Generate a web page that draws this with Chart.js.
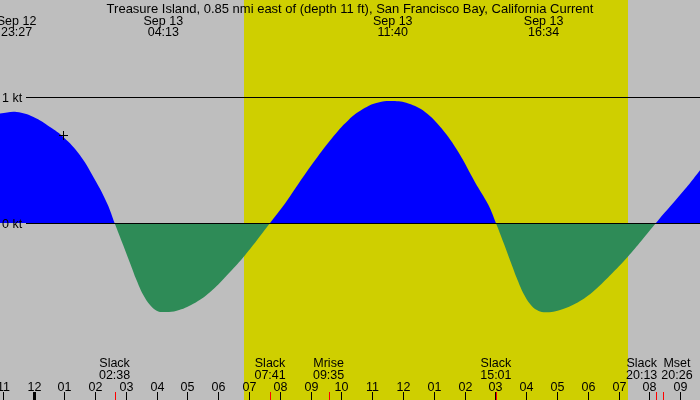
<!DOCTYPE html>
<html>
<head>
<meta charset="utf-8">
<script src="https://cdn.jsdelivr.net/npm/chart.js@4.4.1/dist/chart.umd.min.js"></script>
<style>
html,body{margin:0;padding:0;background:#bebebe;}
#wrap{width:700px;height:400px;}
</style>
</head>
<body>
<div id="wrap"><canvas id="c" width="700" height="400" style="width:700px;height:400px"></canvas></div>
<script>
// ---- Data (hours since Sep 13 00:00, knots) ----
const titleText = "Treasure Island, 0.85 nmi east of (depth 11 ft), San Francisco Bay, California Current";
const curTimes = [-1.09,-0.55,0.0,0.536,0.968,1.51,2.05,2.40,2.633,
  2.917,3.134,3.352,3.566,3.784,4.0,4.217,4.651,5.19,5.73,6.275,6.814,7.249,7.683,
  8.169,8.6,9.143,9.685,10.224,10.767,11.198,11.667,12.173,12.716,13.257,13.797,14.339,14.771,15.017,
  15.3,15.51,15.72,15.93,16.14,16.35,16.567,17.02,17.59,18.16,18.72,19.3,19.75,20.217,
  20.94,21.3,21.65];
const curKnots = [0.872,0.885,0.845,0.765,0.685,0.54,0.32,0.15,0,
  -0.18,-0.32,-0.46,-0.575,-0.655,-0.70,-0.711,-0.701,-0.645,-0.553,-0.419,-0.273,-0.14,0,
  0.155,0.31,0.499,0.673,0.819,0.917,0.960,0.971,0.952,0.885,0.752,0.565,0.325,0.145,0,
  -0.18,-0.32,-0.455,-0.57,-0.65,-0.695,-0.712,-0.70,-0.645,-0.55,-0.42,-0.27,-0.14,0,
  0.206,0.31,0.42];
const nowTime = 0.942, nowKnots = 0.70;
const sunTimes = [6.837, 19.30];              // sunrise, sunset
const topTimes = [-0.55, 4.217, 11.667, 16.567];
const topDates = ["Sep 12","Sep 13","Sep 13","Sep 13"];
const topClock = ["23:27","04:13","11:40","16:34"];
const evtTimes = [2.633, 7.683, 9.583, 15.017, 20.217, 20.433];
const evtNames = ["Slack","Slack","Mrise","Slack","Slack","Mset"];
const evtClock = ["02:38","07:41","09:35","15:01","20:13","20:26"];
const hourTicks = [-1,0,1,2,3,4,5,6,7,8,9,10,11,12,13,14,15,16,17,18,19,20,21];
const hourLabels = ["11","12","01","02","03","04","05","06","07","08","09","10","11","12","01","02","03","04","05","06","07","08","09"];
const levelVals = [1, 0];
const levelLabels = ["1 kt", "0 kt"];

const FONT = "12.5px 'Liberation Sans', Arial, sans-serif";
const TITLE_FONT = "13px 'Liberation Sans', Arial, sans-serif";

const deco = {
  id: 'deco',
  beforeDraw(chart) {
    const ctx = chart.ctx, xs = chart.scales.x;
    ctx.save();
    ctx.fillStyle = '#bebebe';
    ctx.fillRect(0, 0, chart.width, chart.height);
    const a = Math.round(xs.getPixelForValue(sunTimes[0])), b = Math.round(xs.getPixelForValue(sunTimes[1]));
    ctx.fillStyle = '#cfcf00';
    ctx.fillRect(a, 0, b - a, chart.height);
    ctx.restore();
  },
  afterDatasetsDraw(chart) {
    const ctx = chart.ctx, xs = chart.scales.x, ys = chart.scales.y;
    const W = chart.width;
    ctx.save();
    ctx.font = FONT;
    ctx.fillStyle = '#000';
    // level lines
    levelVals.forEach((v, i) => {
      const y = Math.round(ys.getPixelForValue(v)) + 0.5;
      ctx.strokeStyle = '#000'; ctx.lineWidth = 1;
      ctx.beginPath(); ctx.moveTo(26, y); ctx.lineTo(W, y); ctx.stroke();
      ctx.textAlign = 'left'; ctx.textBaseline = 'alphabetic';
      ctx.fillText(levelLabels[i], 2, y + 4);
    });
    // now marker
    const px = Math.round(xs.getPixelForValue(nowTime)), py = Math.round(ys.getPixelForValue(nowKnots));
    ctx.beginPath();
    ctx.moveTo(px - 4, py + 0.5); ctx.lineTo(px + 5, py + 0.5);
    ctx.moveTo(px + 0.5, py - 4); ctx.lineTo(px + 0.5, py + 5);
    ctx.stroke();
    // title
    ctx.textAlign = 'center';
    ctx.font = TITLE_FONT;
    ctx.fillText(titleText, W / 2, 12.5);
    ctx.font = FONT;
    // top labels
    topTimes.forEach((t, i) => {
      const x = xs.getPixelForValue(t);
      ctx.fillText(topDates[i], x, 24.5);
      ctx.fillText(topClock[i], x, 36);
    });
    // bottom event labels with overlap resolution
    const items = evtTimes.map((t, i) => {
      const w = Math.max(ctx.measureText(evtNames[i]).width, ctx.measureText(evtClock[i]).width);
      return { x: xs.getPixelForValue(t), w, i };
    });
    const cx = items.map(o => o.x);
    for (let k = 0; k < items.length - 1; k++) {
      const A = items[k], B = items[k + 1];
      const need = A.w / 2 + B.w / 2 + 4;
      if (cx[k + 1] - cx[k] < need) {
        const mid = (cx[k] + cx[k + 1]) / 2;
        cx[k] = mid - need / 2; cx[k + 1] = mid + need / 2;
      }
    }
    items.forEach((o, k) => {
      ctx.fillText(evtNames[o.i], cx[k], 366.5);
      ctx.fillText(evtClock[o.i], cx[k], 378.5);
    });
    // hour ticks
    hourTicks.forEach((h, i) => {
      const x = Math.round(xs.getPixelForValue(h));
      ctx.fillStyle = '#000';
      ctx.fillText(hourLabels[i], x + 0.5, 390.5);
      if (h === 0) ctx.fillRect(x - 1, 392, 3, 8);
      else ctx.fillRect(x, 392, 1, 8);
    });
    // event ticks
    ctx.fillStyle = '#ff0000';
    evtTimes.forEach(t => {
      const x = Math.round(xs.getPixelForValue(t));
      ctx.fillRect(x, 392, 1, 8);
    });
    ctx.restore();
  }
};

const pts = curTimes.map((t, i) => ({ x: t, y: curKnots[i] }));

new Chart(document.getElementById('c'), {
  type: 'line',
  data: {
    datasets: [{
      data: pts,
      fill: { target: 'origin', above: '#0000ff', below: '#2e8b57' },
      borderWidth: 0,
      borderColor: 'rgba(0,0,0,0)',
      pointRadius: 0,
      tension: 0.4
    }]
  },
  options: {
    responsive: false,
    animation: false,
    layout: { padding: 0 },
    events: [],
    plugins: { legend: { display: false }, tooltip: { enabled: false } },
    scales: {
      x: { type: 'linear', display: false, min: -1.088, max: 21.646 },
      y: { type: 'linear', display: false, min: -1.412, max: 1.777 }
    }
  },
  plugins: [deco]
});
</script>
</body>
</html>
